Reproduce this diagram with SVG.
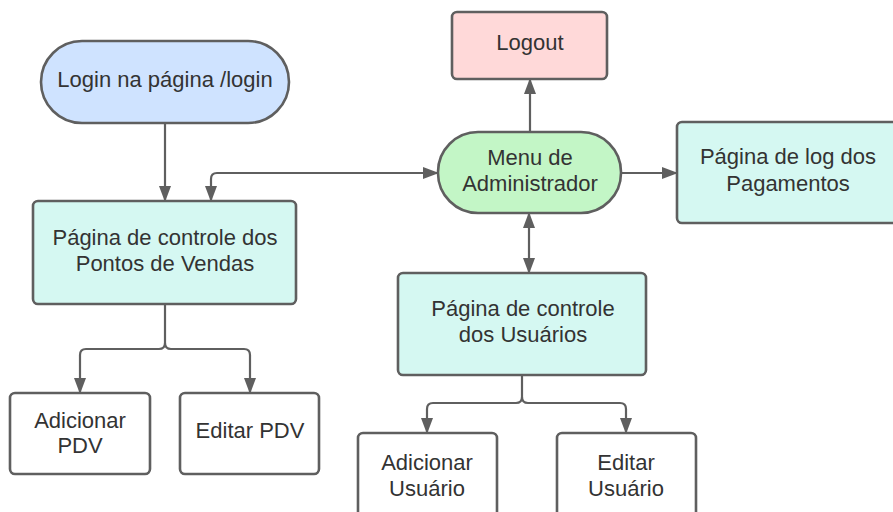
<svg xmlns="http://www.w3.org/2000/svg" width="893" height="512" viewBox="0 0 893 512">
<defs>
<style>
.n{stroke:#5f5f5f;stroke-width:2.6}
.t{font-family:"Liberation Sans",Arial,sans-serif;font-size:22px;fill:#333;text-anchor:middle}
.c{fill:none;stroke:#5f5f5f;stroke-width:2.2}
</style>
<marker id="ah" viewBox="0 0 16 12" refX="15" refY="6" markerWidth="16" markerHeight="12" markerUnits="userSpaceOnUse" orient="auto-start-reverse">
<path d="M0 0 L16 6 L0 12 Z" fill="#5f5f5f"/>
</marker>
</defs>
<rect width="893" height="512" fill="#fff"/>
<g id="connectors">
<path class="c" d="M165 123 V201" marker-end="url(#ah)"/>
<path class="c" d="M211 201 V179 Q211 173 217 173 H438" marker-start="url(#ah)" marker-end="url(#ah)"/>
<path class="c" d="M530 132 V79" marker-end="url(#ah)"/>
<path class="c" d="M621 173 H677" marker-end="url(#ah)"/>
<path class="c" d="M529 213 V273" marker-start="url(#ah)" marker-end="url(#ah)"/>
<path class="c" d="M165 304 V343 Q165 349 159 349 H86 Q80 349 80 355 V393" marker-end="url(#ah)"/>
<path class="c" d="M165 343 Q165 349 171 349 H244 Q250 349 250 355 V393" marker-end="url(#ah)"/>
<path class="c" d="M522 375 V397 Q522 403 516 403 H433 Q427 403 427 409 V433" marker-end="url(#ah)"/>
<path class="c" d="M522 397 Q522 403 528 403 H620 Q626 403 626 409 V433" marker-end="url(#ah)"/>
</g>
<g id="login">
<rect class="n" x="41" y="41" width="248" height="82" rx="41" fill="#cfe3ff"/>
<text class="t" x="165" y="87">Login na página /login</text>
</g>
<g id="logout">
<rect class="n" x="452" y="12" width="155" height="67" rx="5" fill="#ffd9d9"/>
<text class="t" x="530" y="50">Logout</text>
</g>
<g id="menu">
<rect class="n" x="438" y="132" width="183" height="81" rx="40" fill="#c3f6c6"/>
<text class="t" x="530" y="165">Menu de</text>
<text class="t" x="530" y="191">Administrador</text>
</g>
<g id="pagamentos">
<rect class="n" x="677" y="122" width="230" height="101" rx="5" fill="#d5f8f2"/>
<text class="t" x="788" y="164">Página de log dos</text>
<text class="t" x="788" y="191">Pagamentos</text>
</g>
<g id="pontos">
<rect class="n" x="33" y="201" width="263" height="103" rx="5" fill="#d5f8f2"/>
<text class="t" x="165" y="245">Página de controle dos</text>
<text class="t" x="165" y="271">Pontos de Vendas</text>
</g>
<g id="usuarios">
<rect class="n" x="398" y="273" width="248" height="102" rx="5" fill="#d5f8f2"/>
<text class="t" x="523" y="316">Página de controle</text>
<text class="t" x="523" y="342">dos Usuários</text>
</g>
<g id="adicionar-pdv">
<rect class="n" x="10" y="393" width="140" height="81" rx="5" fill="#fff"/>
<text class="t" x="80" y="428">Adicionar</text>
<text class="t" x="80" y="453">PDV</text>
</g>
<g id="editar-pdv">
<rect class="n" x="180" y="393" width="139" height="81" rx="5" fill="#fff"/>
<text class="t" x="250" y="438">Editar PDV</text>
</g>
<g id="adicionar-usuario">
<rect class="n" x="358" y="433" width="139" height="90" rx="5" fill="#fff"/>
<text class="t" x="427" y="470">Adicionar</text>
<text class="t" x="427" y="496">Usuário</text>
</g>
<g id="editar-usuario">
<rect class="n" x="557" y="433" width="139" height="90" rx="5" fill="#fff"/>
<text class="t" x="626" y="470">Editar</text>
<text class="t" x="626" y="496">Usuário</text>
</g>
</svg>
